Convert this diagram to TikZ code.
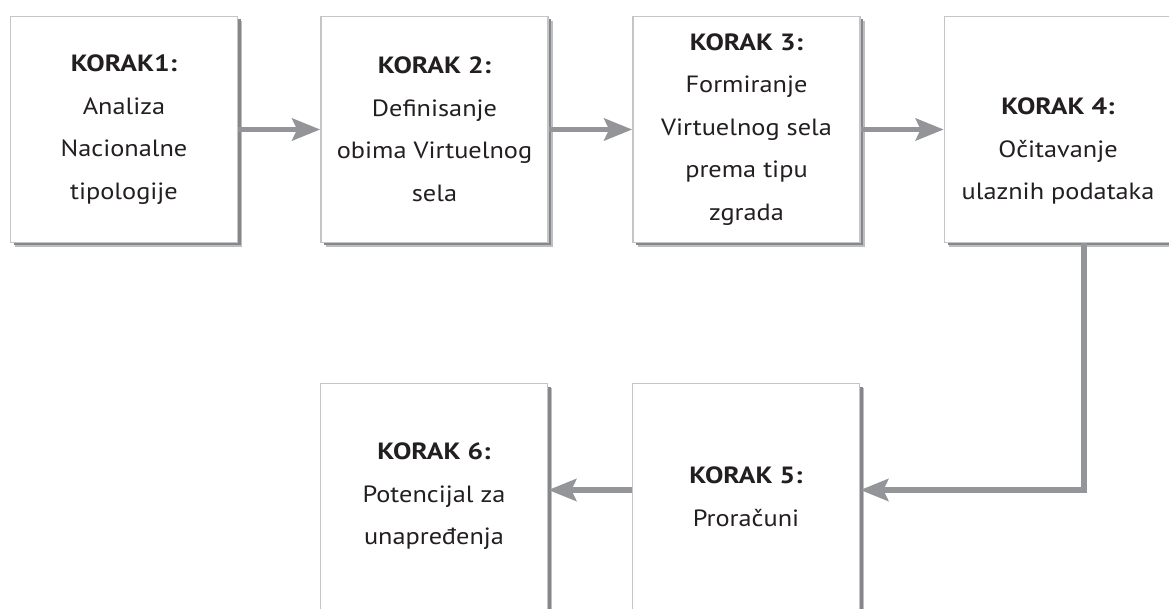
\documentclass[tikz,border=0pt]{standalone}
\usepackage{fontspec}
\setmainfont{PT Sans}[FakeStretch=1.12, BoldFeatures={FakeStretch=1.17}]
\usetikzlibrary{arrows.meta,shadows}
\definecolor{boxborder}{HTML}{C4C5C7}
\definecolor{shadowdark}{HTML}{86878A}
\definecolor{shadowlight}{HTML}{BDBEC0}
\definecolor{arrowgray}{HTML}{939598}
\definecolor{txt}{HTML}{231F20}
\tikzset{
  stepbox/.style={draw=boxborder, line width=1.6pt, fill=white,
    minimum width=227pt, minimum height=226pt, inner sep=0pt,
    align=center, text=txt, font=\fontsize{23.5}{42.5}\selectfont,
    general shadow={shadow xshift=4.5pt, shadow yshift=-4.5pt, fill=shadowlight},
    general shadow={shadow xshift=3pt, shadow yshift=-3pt, fill=shadowdark}},
  steptext/.style={align=center, text=txt, font=\fontsize{23.5}{42.5}\selectfont, inner sep=0pt},
  flow/.style={draw=arrowgray, line width=5.5pt,
    -{Stealth[length=28pt,width=22pt,inset=5pt]}},
}
\begin{document}
\begin{tikzpicture}[x=1pt,y=1pt]
\useasboundingbox (0,0) rectangle (1169,-609);
\clip (0,0) rectangle (1169,-609);
\node[stepbox] (b1) at (124,-129.5) {\textbf{KORAK1:}\\Analiza\\Nacionalne\\tipologije};
\node[stepbox] (b2) at (434.5,-129.5) {\textbf{KORAK 2:}\\Definisanje\\obima Virtuelnog\\sela};
\node[stepbox] (b3) at (746.5,-129.5) {\textbf{KORAK 3:}\\Formiranje\\Virtuelnog sela\\prema tipu\\zgrada};
\node[stepbox] (b4) at (1058,-129.5) {};
\node[steptext] (t4) at (1058,-151) {\textbf{KORAK 4:}\\Očitavanje\\ulaznih podataka};
\node[stepbox] (b5) at (746,-496.5) {\textbf{KORAK 5:}\\Proračuni};
\node[stepbox] (b6) at (434,-496.5) {\textbf{KORAK 6:}\\Potencijal za\\unapređenja};
\draw[flow] (b1.east) -- (b2.west);
\draw[flow] (b2.east) -- (b3.west);
\draw[flow] (b3.east) -- (b4.west);
\draw[flow] ([xshift=26pt]b4.south) |- ([yshift=6.5pt]b5.east);
\draw[flow] ([yshift=6.5pt]b5.west) -- ([yshift=6.5pt]b6.east);
\end{tikzpicture}
\end{document}
